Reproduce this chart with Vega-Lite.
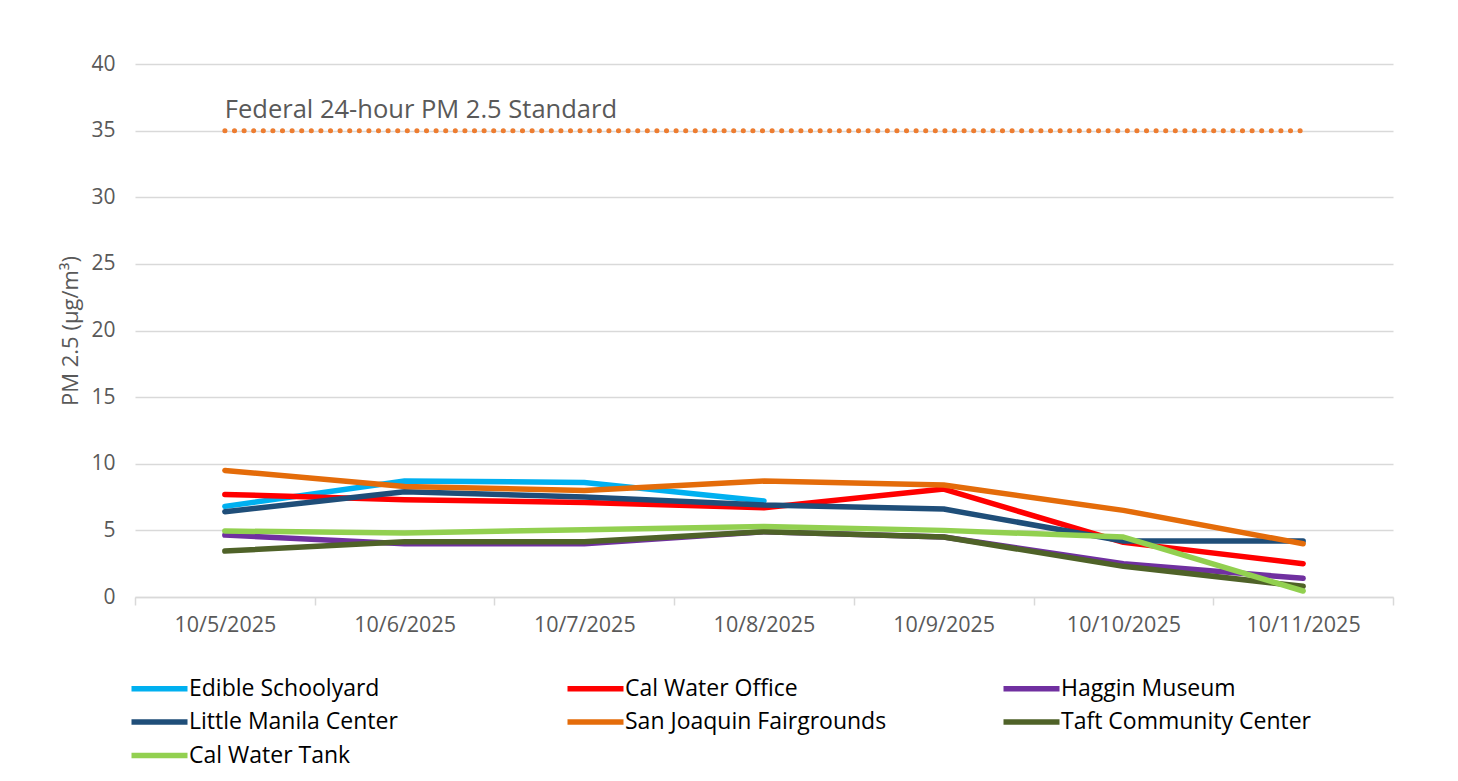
{
  "$schema": "https://vega.github.io/schema/vega-lite/v6.json",
  "width": 1258,
  "height": 533,
  "autosize": {"type": "none"},
  "padding": {"left": 135, "top": 64, "right": 65, "bottom": 184},
  "background": "white",
  "config": {"font": "Open Sans", "view": {"stroke": null}},
  "datasets": {
    "pm": [
      {"date": "10/5/2025", "site": "Edible Schoolyard", "pm": 6.8},
      {"date": "10/6/2025", "site": "Edible Schoolyard", "pm": 8.7},
      {"date": "10/7/2025", "site": "Edible Schoolyard", "pm": 8.6},
      {"date": "10/8/2025", "site": "Edible Schoolyard", "pm": 7.2},
      {"date": "10/5/2025", "site": "Cal Water Office", "pm": 7.7},
      {"date": "10/6/2025", "site": "Cal Water Office", "pm": 7.3},
      {"date": "10/7/2025", "site": "Cal Water Office", "pm": 7.1},
      {"date": "10/8/2025", "site": "Cal Water Office", "pm": 6.7},
      {"date": "10/9/2025", "site": "Cal Water Office", "pm": 8.1},
      {"date": "10/10/2025", "site": "Cal Water Office", "pm": 4.1},
      {"date": "10/11/2025", "site": "Cal Water Office", "pm": 2.5},
      {"date": "10/5/2025", "site": "Haggin Museum", "pm": 4.65},
      {"date": "10/6/2025", "site": "Haggin Museum", "pm": 4.0},
      {"date": "10/7/2025", "site": "Haggin Museum", "pm": 4.0},
      {"date": "10/8/2025", "site": "Haggin Museum", "pm": 4.9},
      {"date": "10/9/2025", "site": "Haggin Museum", "pm": 4.5},
      {"date": "10/10/2025", "site": "Haggin Museum", "pm": 2.5},
      {"date": "10/11/2025", "site": "Haggin Museum", "pm": 1.4},
      {"date": "10/5/2025", "site": "Little Manila Center", "pm": 6.4},
      {"date": "10/6/2025", "site": "Little Manila Center", "pm": 7.9},
      {"date": "10/7/2025", "site": "Little Manila Center", "pm": 7.5},
      {"date": "10/8/2025", "site": "Little Manila Center", "pm": 6.9},
      {"date": "10/9/2025", "site": "Little Manila Center", "pm": 6.6},
      {"date": "10/10/2025", "site": "Little Manila Center", "pm": 4.2},
      {"date": "10/11/2025", "site": "Little Manila Center", "pm": 4.2},
      {"date": "10/5/2025", "site": "San Joaquin Fairgrounds", "pm": 9.5},
      {"date": "10/6/2025", "site": "San Joaquin Fairgrounds", "pm": 8.3},
      {"date": "10/7/2025", "site": "San Joaquin Fairgrounds", "pm": 8.0},
      {"date": "10/8/2025", "site": "San Joaquin Fairgrounds", "pm": 8.7},
      {"date": "10/9/2025", "site": "San Joaquin Fairgrounds", "pm": 8.4},
      {"date": "10/10/2025", "site": "San Joaquin Fairgrounds", "pm": 6.5},
      {"date": "10/11/2025", "site": "San Joaquin Fairgrounds", "pm": 4.0},
      {"date": "10/5/2025", "site": "Taft Community Center", "pm": 3.45},
      {"date": "10/6/2025", "site": "Taft Community Center", "pm": 4.15},
      {"date": "10/7/2025", "site": "Taft Community Center", "pm": 4.15},
      {"date": "10/8/2025", "site": "Taft Community Center", "pm": 4.9},
      {"date": "10/9/2025", "site": "Taft Community Center", "pm": 4.5},
      {"date": "10/10/2025", "site": "Taft Community Center", "pm": 2.3},
      {"date": "10/11/2025", "site": "Taft Community Center", "pm": 0.8},
      {"date": "10/5/2025", "site": "Cal Water Tank", "pm": 4.95},
      {"date": "10/6/2025", "site": "Cal Water Tank", "pm": 4.8},
      {"date": "10/7/2025", "site": "Cal Water Tank", "pm": 5.05},
      {"date": "10/8/2025", "site": "Cal Water Tank", "pm": 5.3},
      {"date": "10/9/2025", "site": "Cal Water Tank", "pm": 5.0},
      {"date": "10/10/2025", "site": "Cal Water Tank", "pm": 4.5},
      {"date": "10/11/2025", "site": "Cal Water Tank", "pm": 0.45}
    ],
    "standard": [
      {"date": "10/5/2025", "pm": 35},
      {"date": "10/6/2025", "pm": 35},
      {"date": "10/7/2025", "pm": 35},
      {"date": "10/8/2025", "pm": 35},
      {"date": "10/9/2025", "pm": 35},
      {"date": "10/10/2025", "pm": 35},
      {"date": "10/11/2025", "pm": 35}
    ],
    "label": [
      {"date": "10/5/2025", "pm": 35, "text": "Federal 24-hour PM 2.5 Standard"}
    ]
  },
  "encoding": {
    "x": {
      "field": "date",
      "type": "ordinal",
      "sort": ["10/5/2025", "10/6/2025", "10/7/2025", "10/8/2025", "10/9/2025", "10/10/2025", "10/11/2025"],
      "scale": {"type": "band", "paddingInner": 0, "paddingOuter": 0},
      "axis": {
        "title": null,
        "labelAngle": 0,
        "tickBand": "extent",
        "grid": false,
        "domainColor": "#D9D9D9",
        "domainWidth": 1.5,
        "tickColor": "#D9D9D9",
        "tickWidth": 1.5,
        "tickSize": 8,
        "labelFontSize": 21.5,
        "labelColor": "#595959",
        "labelPadding": 9
      }
    },
    "y": {
      "field": "pm",
      "type": "quantitative",
      "scale": {"domain": [0, 40], "nice": false},
      "axis": {
        "title": "PM 2.5 (µg/m³)",
        "values": [0, 5, 10, 15, 20, 25, 30, 35, 40],
        "domain": false,
        "ticks": false,
        "gridColor": "#D9D9D9",
        "gridWidth": 1.5,
        "labelFontSize": 21,
        "labelColor": "#595959",
        "labelPadding": 20,
        "titleFontSize": 22,
        "titleColor": "#595959",
        "titleFontWeight": "normal",
        "titlePadding": 8
      }
    }
  },
  "layer": [
    {
      "data": {"name": "standard"},
      "mark": {"type": "line", "color": "#ED7D31", "strokeWidth": 5, "strokeCap": "round", "strokeDash": [0.1, 9.5]}
    },
    {
      "data": {"name": "label"},
      "mark": {"type": "text", "align": "left", "baseline": "middle", "dy": -21, "fontSize": 25.5, "color": "#595959"},
      "encoding": {"text": {"field": "text"}}
    },
    {
      "data": {"name": "pm"},
      "mark": {"type": "line", "strokeWidth": 5.5, "strokeCap": "round", "strokeJoin": "round"},
      "encoding": {
        "color": {
          "field": "site",
          "type": "nominal",
          "scale": {
            "domain": ["Edible Schoolyard", "Cal Water Office", "Haggin Museum", "Little Manila Center", "San Joaquin Fairgrounds", "Taft Community Center", "Cal Water Tank"],
            "range": ["#00B0F0", "#FF0000", "#7030A0", "#1F4E79", "#E46C0A", "#4F6228", "#92D050"]
          },
          "legend": {
            "title": null,
            "orient": "none",
            "direction": "horizontal",
            "legendX": -7,
            "legendY": 613,
            "columns": 3,
            "gridAlign": "all",
            "symbolType": "M-1,0H6",
            "symbolSize": 256,
            "symbolStrokeWidth": 5.5,
            "labelFontSize": 23,
            "labelColor": "#000000",
            "labelOffset": 38,
            "labelLimit": 400,
            "rowPadding": 9.5,
            "columnPadding": 105
          }
        }
      }
    }
  ]
}
